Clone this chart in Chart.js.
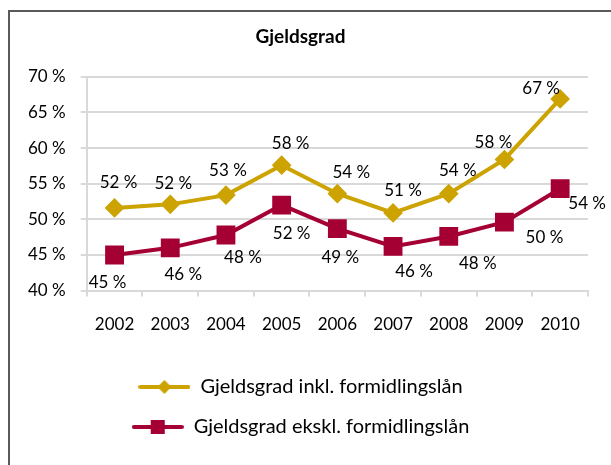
<!DOCTYPE html>
<html>
<head>
<meta charset="utf-8">
<script src="https://cdn.jsdelivr.net/npm/chart.js@4.4.0/dist/chart.umd.min.js"></script>
<style>
    html, body { margin: 0; padding: 0; background: #fff; overflow: hidden; }
    #wrap { position: relative; width: 611px; height: 465px; }
    #frame { position: absolute; left: 8px; top: 10px; width: 640px; height: 500px; border: 2px solid #5a5a5a; box-sizing: border-box; pointer-events: none; }
    canvas { position: absolute; left: 0; top: 0; }
</style>
</head>
<body>
<div id="wrap">
    <canvas id="debtChart" width="611" height="465"></canvas>
    <div id="frame"></div>
</div>
<script>
// Data
const years = ['2002', '2003', '2004', '2005', '2006', '2007', '2008', '2009', '2010'];
const inklFormidling = [51.6, 52.1, 53.4, 57.6, 53.6, 50.9, 53.6, 58.4, 66.9];
const eksklFormidling = [45.0, 46.0, 47.8, 52.0, 48.7, 46.2, 47.6, 49.6, 54.3];
const yTicks = [40, 45, 50, 55, 60, 65, 70];

const gold = '#CCA300';
const crimson = '#A50034';
const fontFamily = 'Lato, "Open Sans", sans-serif';

// label placement relative to each point (dx, dy)
const labelShift = [
    [[4, -25], [3, -21], [2, -25], [9, -22], [14, -21], [10, -22], [9, -23], [-11, -17], [-19, -10]],
    [[-7, 28], [13, 27], [17, 23], [10, 28], [3, 29], [21, 25], [29, 27], [40, 15], [27, 15]]
];

// small canvas used as legend symbol: line with marker in the middle
function legendSymbol(color, shape) {
    const c = document.createElement('canvas');
    c.width = 52; c.height = 16;
    const g = c.getContext('2d');
    g.strokeStyle = color;
    g.lineWidth = 4;
    g.lineCap = 'round';
    g.beginPath();
    g.moveTo(2, 8); g.lineTo(50, 8);
    g.stroke();
    g.fillStyle = color;
    if (shape === 'diamond') {
        g.beginPath();
        g.moveTo(26, 1); g.lineTo(33, 8); g.lineTo(26, 15); g.lineTo(19, 8);
        g.closePath();
        g.fill();
    } else {
        g.fillRect(19, 1, 14, 14);
    }
    return c;
}

const pointLabels = {
    id: 'pointLabels',
    afterDatasetsDraw(chart) {
        const ctx = chart.ctx;
        ctx.save();
        ctx.font = '17px ' + fontFamily;
        ctx.fillStyle = '#000';
        ctx.textAlign = 'center';
        ctx.textBaseline = 'middle';
        chart.data.datasets.forEach((ds, i) => {
            const meta = chart.getDatasetMeta(i);
            meta.data.forEach((pt, j) => {
                const s = labelShift[i][j];
                ctx.fillText(Math.round(ds.data[j]) + ' %', pt.x + s[0], pt.y + s[1]);
            });
        });
        ctx.restore();
    }
};

const whiteBg = {
    id: 'whiteBg',
    beforeDraw(chart) {
        const ctx = chart.ctx;
        ctx.save();
        ctx.fillStyle = '#fff';
        ctx.fillRect(0, 0, chart.width, chart.height);
        ctx.restore();
    }
};

new Chart(document.getElementById('debtChart'), {
    type: 'line',
    data: {
        labels: years,
        datasets: [{
            label: 'Gjeldsgrad inkl. formidlingslån',
            data: inklFormidling,
            borderColor: gold,
            backgroundColor: gold,
            borderWidth: 4,
            pointStyle: 'rectRot',
            pointRadius: 7,
            tension: 0,
            symbol: legendSymbol(gold, 'diamond')
        }, {
            label: 'Gjeldsgrad ekskl. formidlingslån',
            data: eksklFormidling,
            borderColor: crimson,
            backgroundColor: crimson,
            borderWidth: 4,
            pointStyle: 'rect',
            pointRadius: 10.5,
            tension: 0,
            symbol: legendSymbol(crimson, 'square')
        }]
    },
    options: {
        responsive: false,
        animation: false,
        layout: { padding: { left: 13, right: 23, top: 0, bottom: 18 } },
        plugins: {
            tooltip: { enabled: false },
            title: {
                display: true,
                text: 'Gjeldsgrad',
                color: '#000',
                font: { family: fontFamily, size: 19, weight: 'bold' },
                padding: { top: 25, bottom: 29 }
            },
            legend: {
                position: 'bottom',
                labels: {
                    color: '#000',
                    font: { family: fontFamily, size: 20 },
                    usePointStyle: true,
                    pointStyleWidth: 52,
                    padding: 20,
                    generateLabels(chart) {
                        return chart.data.datasets.map((ds, i) => ({
                            text: ds.label,
                            pointStyle: ds.symbol,
                            fillStyle: ds.borderColor,
                            strokeStyle: ds.borderColor,
                            lineWidth: 0,
                            fontColor: '#000',
                            datasetIndex: i
                        }));
                    }
                }
            }
        },
        scales: {
            x: {
                offset: true,
                afterFit(axis) { axis.height += 4; },
                grid: { display: true, drawOnChartArea: false, drawTicks: true, tickLength: 6, offset: true, color: '#d9d9d9', lineWidth: 2 },
                border: { display: true, color: '#d9d9d9', width: 2 },
                ticks: { color: '#000', font: { family: fontFamily, size: 17 }, padding: 18 }
            },
            y: {
                min: 40,
                max: 70,
                afterBuildTicks(axis) { axis.ticks = yTicks.map(v => ({ value: v })); },
                grid: { color: '#d9d9d9', lineWidth: 2, tickLength: 6 },
                border: { display: true, color: '#d9d9d9', width: 2 },
                ticks: {
                    color: '#000',
                    font: { family: fontFamily, size: 17 },
                    padding: 15,
                    callback: v => v + ' %'
                }
            }
        }
    },
    plugins: [whiteBg, pointLabels]
});
</script>
</body>
</html>
